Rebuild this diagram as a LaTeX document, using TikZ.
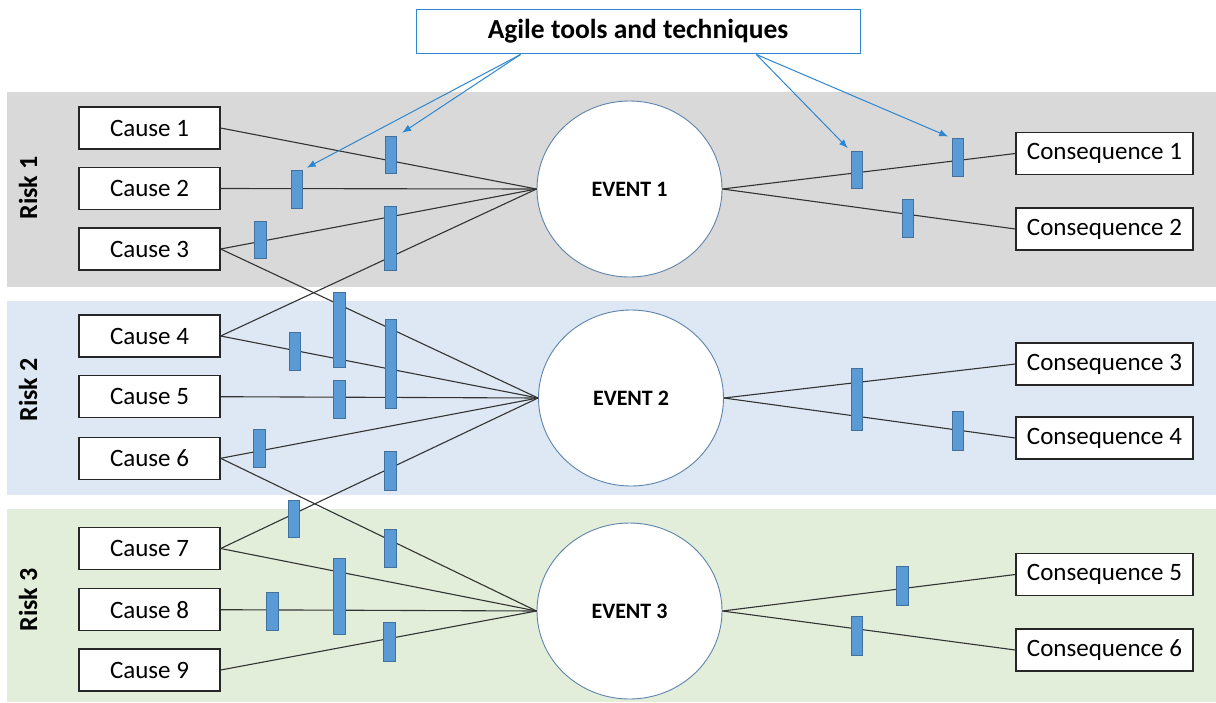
\documentclass[tikz,border=0pt]{standalone}
\usepackage{fontspec}
\setmainfont{Carlito}
\usetikzlibrary{shapes.geometric,arrows.meta,calc}

\definecolor{bandgray}{HTML}{D9D9D9}
\definecolor{bandblue}{HTML}{DEE8F4}
\definecolor{bandgreen}{HTML}{E2EEDA}
\definecolor{barfill}{HTML}{5B9BD5}
\definecolor{baredge}{HTML}{41719C}
\definecolor{eventedge}{HTML}{5F84AC}
\definecolor{toolblue}{HTML}{2E86D0}
\definecolor{linkgray}{HTML}{333333}

\begin{document}
\begin{tikzpicture}[x=1pt,y=-1pt,
  cause/.style={draw=black!85, line width=1.3pt, fill=white, minimum width=141pt,
    minimum height=42pt, inner sep=0pt, font=\fontsize{25}{29}\selectfont},
  conseq/.style={cause, minimum width=177pt},
  event/.style={ellipse, draw=eventedge, line width=0.9pt, fill=white,
    minimum width=185pt, minimum height=176pt, inner sep=0pt,
    font=\bfseries\fontsize{22}{26}\selectfont},
  ctrl/.style={rectangle, draw=baredge, fill=barfill, line width=0.8pt,
    minimum width=11.5pt, minimum height=#1, inner sep=0pt},
  link/.style={draw=linkgray, line width=1.1pt},
  tool/.style={draw=toolblue, line width=1pt, -{Latex[length=9pt,width=7pt]}},
  risk/.style={rotate=90, font=\bfseries\fontsize{26}{30}\selectfont},
  agile/.style={draw=toolblue, line width=1pt, fill=white, minimum width=444pt,
    minimum height=44pt, inner sep=0pt, font=\bfseries\fontsize{27.5}{32}\selectfont}
]
\useasboundingbox (0,0) rectangle (1216,702);

% risk bands
\fill[bandgray]  (7,92)  rectangle (1216,287);
\fill[bandblue]  (7,301) rectangle (1216,495);
\fill[bandgreen] (7,509) rectangle (1216,702);

\node[risk] (r1) at (28,188) {Risk 1};
\node[risk] (r2) at (28,390) {Risk 2};
\node[risk] (r3) at (28,600) {Risk 3};

% causes
\node[cause] (c1) at (149.5,128)   {Cause 1};
\node[cause] (c2) at (149.5,188.5) {Cause 2};
\node[cause] (c3) at (149.5,249)   {Cause 3};
\node[cause] (c4) at (149.5,336)   {Cause 4};
\node[cause] (c5) at (149.5,396.7) {Cause 5};
\node[cause] (c6) at (149.5,458.3) {Cause 6};
\node[cause] (c7) at (149.5,548.5) {Cause 7};
\node[cause] (c8) at (149.5,609.7) {Cause 8};
\node[cause] (c9) at (149.5,670)   {Cause 9};

% consequences
\node[conseq] (q1) at (1104.5,153.5) {Consequence 1};
\node[conseq] (q2) at (1104.5,229)   {Consequence 2};
\node[conseq] (q3) at (1104.5,364)   {Consequence 3};
\node[conseq] (q4) at (1104.5,438)   {Consequence 4};
\node[conseq] (q5) at (1104.5,574.5) {Consequence 5};
\node[conseq] (q6) at (1104.5,650)   {Consequence 6};

% events
\node[event] (e1) at (629.5,189) {EVENT 1};
\node[event] (e2) at (631,398)   {EVENT 2};
\node[event] (e3) at (629.5,611) {EVENT 3};

% cause -> event links
\foreach \c/\e in {c1/e1,c2/e1,c3/e1,c4/e1,c3/e2,c4/e2,c5/e2,c6/e2,c7/e2,c6/e3,c7/e3,c8/e3,c9/e3}
  \draw[link] (\c.east) -- (\e.west);
% event -> consequence links
\foreach \e/\q in {e1/q1,e1/q2,e2/q3,e2/q4,e3/q5,e3/q6}
  \draw[link] (\e.east) -- (\q.west);

% controls (agile tools) placed on the links
\node[ctrl=37pt] (bA) at (391,155)     {};
\node[ctrl=38pt] (bB) at (297,189)     {};
\node[ctrl=37pt] (bC) at (260.5,240)   {};
\node[ctrl=64pt] (bD) at (390.5,238)   {};
\node[ctrl=75pt] (bE) at (339.6,330)   {};
\node[ctrl=89pt] (bF) at (390.7,364)   {};
\node[ctrl=38pt] (bG) at (295,351)     {};
\node[ctrl=38pt] (bH) at (339.6,399.5) {};
\node[ctrl=38pt] (bI) at (259.3,448.5) {};
\node[ctrl=39pt] (bJ) at (390.3,471)   {};
\node[ctrl=37pt] (bK) at (293.7,519)   {};
\node[ctrl=38pt] (bL) at (390.5,548.5) {};
\node[ctrl=76pt] (bM) at (339.5,596.3) {};
\node[ctrl=38pt] (bN) at (272.3,611.3) {};
\node[ctrl=39pt] (bO) at (389.6,642)   {};
\node[ctrl=37pt] (bP) at (856.8,170)   {};
\node[ctrl=38pt] (bQ) at (958,157.5)   {};
\node[ctrl=38pt] (bR) at (908,218)     {};
\node[ctrl=62pt] (bS) at (856.8,399.5) {};
\node[ctrl=39pt] (bT) at (958,431)     {};
\node[ctrl=39pt] (bU) at (902.4,586)   {};
\node[ctrl=39pt] (bV) at (856.8,636)   {};

% agile tools box and its pointers
\node[agile] (agile) at (638,31.3) {Agile tools and techniques};
\coordinate (srcL) at (520.5,54.5);
\coordinate (srcR) at (756.4,54.5);
\draw[tool, shorten >=4pt] (srcL) -- (bB.north east);
\draw[tool, shorten >=6pt] (srcL) -- (bA.north east);
\draw[tool, shorten >=4pt] (srcR) -- (bP.north west);
\draw[tool, shorten >=4pt] (srcR) -- (bQ.north west);
\end{tikzpicture}
\end{document}
